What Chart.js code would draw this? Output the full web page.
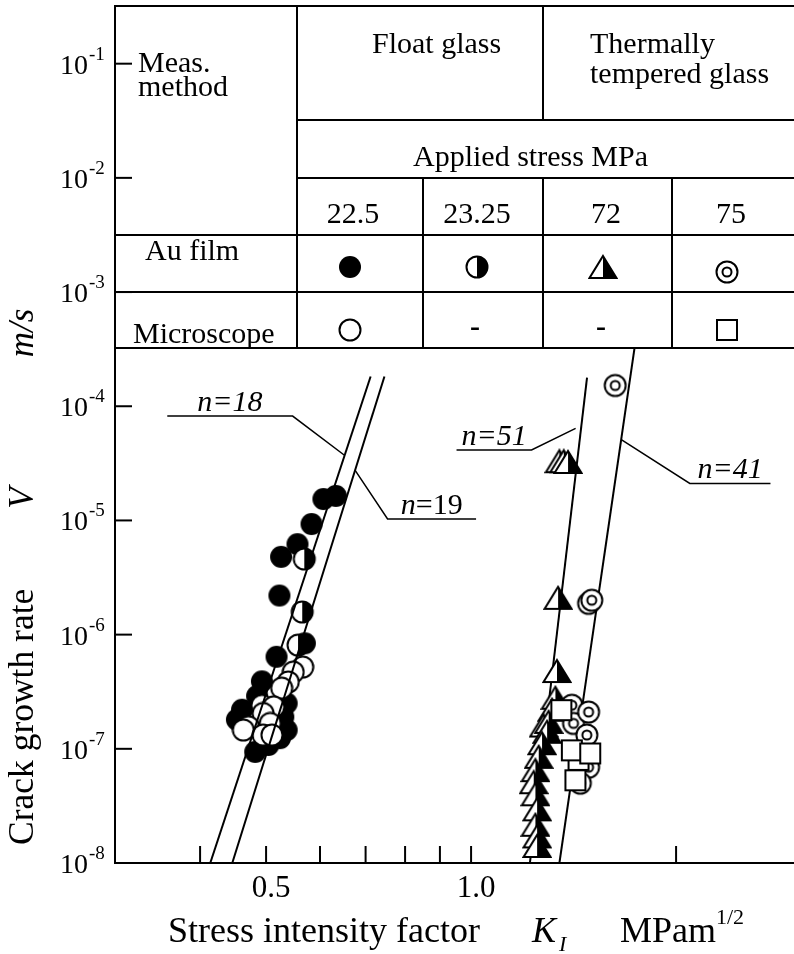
<!DOCTYPE html>
<html>
<head>
<meta charset="utf-8">
<title>Crack growth rate vs stress intensity factor</title>
<script src="https://cdn.jsdelivr.net/npm/chart.js@4.4.1/dist/chart.umd.min.js"></script>
<style>
  html, body { margin: 0; padding: 0; background: #fff; overflow: hidden; }
  #wrap { position: relative; width: 800px; height: 954px; }
</style>
</head>
<body>
<div id="wrap"><canvas id="chart" width="800" height="954"></canvas></div>
<script>
const SERIF = '"Liberation Serif", "Times New Roman", serif';

// axis ticks
const xTicks = [0.4, 0.5, 0.6, 0.7, 0.8, 0.9, 1.0, 2.0];
const xTickText = ['', '0.5', '', '', '', '', '1.0', ''];
const yTicks = [1e-8, 1e-7, 1e-6, 1e-5, 1e-4, 1e-3, 1e-2, 1e-1];
const yTickExp = ['-8', '-7', '-6', '-5', '-4', '-3', '-2', '-1'];

// [K_I (MPa m^1/2), V (m/s)]
// float glass, Au film, 22.5 MPa
const floatAu225 = [
  [0.607, 1.54e-5], [0.633, 1.64e-5], [0.583, 9.3e-6], [0.556, 6.2e-6], [0.526, 4.8e-6],
  [0.523, 2.2e-6], [0.570, 8.4e-7], [0.518, 6.4e-7], [0.493, 3.9e-7], [0.485, 2.9e-7],
  [0.461, 2.2e-7], [0.453, 1.8e-7], [0.482, 9.4e-8], [0.504, 1.08e-7], [0.524, 1.24e-7],
  [0.530, 1.9e-7], [0.536, 2.5e-7], [0.536, 1.46e-7]
];
// float glass, Au film, 23.25 MPa
const floatAu2325 = [[0.569, 4.6e-6], [0.565, 1.58e-6], [0.557, 8.1e-7]];
// float glass, microscope, 22.5 MPa
const floatMic225 = [
  [0.566, 5.2e-7], [0.548, 4.7e-7], [0.539, 3.85e-7], [0.527, 3.4e-7], [0.493, 2.4e-7],
  [0.513, 2.33e-7], [0.495, 2.04e-7], [0.507, 1.67e-7], [0.471, 1.56e-7], [0.463, 1.46e-7],
  [0.495, 1.32e-7], [0.510, 1.32e-7]
];
// tempered glass, Au film, 72 MPa
const tempAu72 = [
  [1.348, 3.3e-5], [1.368, 3.3e-5], [1.388, 3.25e-5], [1.342, 2.1e-6], [1.337, 4.8e-7],
  [1.330, 2.8e-7], [1.315, 2.2e-7], [1.278, 1.6e-7], [1.300, 1.72e-7], [1.293, 1.41e-7],
  [1.271, 1.12e-7], [1.257, 8.5e-8], [1.243, 6.5e-8], [1.236, 5.1e-8], [1.243, 4.0e-8],
  [1.250, 2.95e-8], [1.243, 2.16e-8], [1.250, 1.71e-8], [1.250, 1.41e-8]
];
// tempered glass, Au film, 75 MPa
const tempAu75 = [
  [1.628, 1.52e-4], [1.488, 1.88e-6], [1.504, 2.0e-6], [1.406, 2.41e-7], [1.414, 1.67e-7],
  [1.488, 2.1e-7], [1.479, 1.32e-7], [1.488, 6.9e-8], [1.447, 5.0e-8]
];
// tempered glass, microscope, 75 MPa
const tempMic75 = [[1.357, 2.18e-7], [1.438, 8.0e-8], [1.406, 9.7e-8], [1.496, 9.1e-8], [1.423, 5.3e-8]];

// power-law fits V = A K^n, end points
const fit18 = [[0.414, 1e-8], [0.712, 1.82e-4]];
const fit19 = [[0.446, 1e-8], [0.746, 1.82e-4]];
const fit51 = [[1.220, 1e-8], [1.480, 1.78e-4]];
const fit41 = [[1.348, 1e-8], [1.738, 3.24e-4]];

// label leaders: underline first, then the run to the line
const lead18 = [[0.358, 8.2e-5], [0.547, 8.2e-5], [0.651, 3.74e-5]];
const lead19 = [[1.017, 1.03e-5], [0.754, 1.03e-5], [0.675, 2.77e-5]];
const lead51 = [[0.952, 4.14e-5], [1.227, 4.14e-5], [1.424, 6.4e-5]];
const lead41 = [[2.752, 2.11e-5], [2.095, 2.11e-5], [1.664, 5.07e-5]];
const leadText = [
  [['n=18', true]],
  [['n', true], ['=19', false]],
  [['n=51', true]],
  [['n=41', true]]
];

const pts = arr => arr.map(([x, y]) => ({ x, y }));

// marker images
function marker(w, h, paint) {
  const c = document.createElement('canvas');
  c.width = w; c.height = h;
  const g = c.getContext('2d');
  g.lineWidth = 2; g.strokeStyle = '#000';
  paint(g, w, h);
  return c;
}
const disc = marker(24, 24, g => {
  g.beginPath(); g.arc(12, 12, 11, 0, Math.PI * 2); g.fillStyle = '#000'; g.fill();
});
const ring = marker(24, 24, g => {
  g.beginPath(); g.arc(12, 12, 10.5, 0, Math.PI * 2); g.fillStyle = '#fff'; g.fill(); g.stroke();
});
const halfDisc = marker(26, 26, g => {
  g.beginPath(); g.arc(13, 13, 10.5, 0, Math.PI * 2); g.fillStyle = '#fff'; g.fill();
  g.beginPath(); g.arc(13, 13, 10.5, -Math.PI / 2, Math.PI / 2); g.closePath(); g.fillStyle = '#000'; g.fill();
  g.beginPath(); g.arc(13, 13, 10.5, 0, Math.PI * 2); g.stroke();
});
const bullseye = marker(26, 26, g => {
  g.beginPath(); g.arc(13, 13, 10.5, 0, Math.PI * 2); g.fillStyle = '#fff'; g.fill(); g.stroke();
  g.beginPath(); g.arc(13, 13, 4.5, 0, Math.PI * 2); g.stroke();
});
const halfTri = marker(30, 26, g => {
  g.beginPath(); g.moveTo(15, 2); g.lineTo(28.5, 24); g.lineTo(1.5, 24); g.closePath();
  g.fillStyle = '#fff'; g.fill();
  g.beginPath(); g.moveTo(15, 2); g.lineTo(28.5, 24); g.lineTo(15, 24); g.closePath();
  g.fillStyle = '#000'; g.fill();
  g.beginPath(); g.moveTo(15, 2); g.lineTo(28.5, 24); g.lineTo(1.5, 24); g.closePath(); g.stroke();
});
const box = marker(24, 24, g => {
  g.fillStyle = '#fff'; g.fillRect(2, 2, 20, 20); g.strokeRect(2, 2, 20, 20);
});

const lineSet = (data, order, width) => ({
  data: pts(data), showLine: true, pointRadius: 0, borderColor: '#000',
  borderWidth: width, fill: false, order
});
// the images carry the marker size, so the radius stays tiny and adds no layout padding
const markSet = (data, order, img) => ({
  data: pts(data), showLine: false, order, pointStyle: img, pointRadius: 1, pointBorderWidth: 0
});

function line(ctx, x1, y1, x2, y2) {
  ctx.beginPath(); ctx.moveTo(x1, y1); ctx.lineTo(x2, y2); ctx.stroke();
}

// tick marks, labels, titles and the method/stress table
const decor = {
  id: 'decor',
  afterDraw(chart) {
    const { ctx, chartArea: a, scales: { x, y } } = chart;
    ctx.save();
    ctx.strokeStyle = '#000';
    ctx.fillStyle = '#000';
    ctx.lineWidth = 2;
    line(ctx, a.left - 1, a.top, a.right, a.top);

    x.ticks.forEach(t => {
      const px = x.getPixelForValue(t.value);
      line(ctx, px, a.bottom, px, a.bottom - 17);
    });
    y.ticks.forEach(t => {
      const py = y.getPixelForValue(t.value);
      line(ctx, a.left, py, a.left + 17, py);
    });

    ctx.textBaseline = 'alphabetic';
    ctx.font = '31px ' + SERIF;
    ctx.textAlign = 'center';
    xTicks.forEach((v, i) => {
      if (xTickText[i]) ctx.fillText(xTickText[i], x.getPixelForValue(v) + 5, a.bottom + 34);
    });
    yTicks.forEach((v, i) => {
      const py = y.getPixelForValue(v);
      ctx.font = '28px ' + SERIF;
      ctx.textAlign = 'right';
      ctx.fillText('10', a.left - 27, py + 10);
      ctx.font = '19px ' + SERIF;
      ctx.textAlign = 'left';
      ctx.fillText(yTickExp[i], a.left - 26, py - 4);
    });

    // fit labels on their leaders
    [lead18, lead19, lead51, lead41].forEach((ld, i) => {
      const x1 = x.getPixelForValue(ld[0][0]), x2 = x.getPixelForValue(ld[1][0]);
      const yb = y.getPixelForValue(ld[0][1]) - 5;
      const parts = leadText[i];
      let w = 0;
      parts.forEach(([s, it]) => { ctx.font = (it ? 'italic ' : '') + '30px ' + SERIF; w += ctx.measureText(s).width; });
      let cx = (x1 + x2) / 2 - w / 2;
      ctx.textAlign = 'left';
      parts.forEach(([s, it]) => {
        ctx.font = (it ? 'italic ' : '') + '30px ' + SERIF;
        ctx.fillText(s, cx, yb);
        cx += ctx.measureText(s).width;
      });
    });

    // axis titles
    ctx.font = '36px ' + SERIF;
    ctx.textAlign = 'left';
    ctx.fillText('Stress intensity factor', 168, 942);
    ctx.font = 'italic 36px ' + SERIF;
    ctx.fillText('K', 532, 942);
    ctx.font = 'italic 22px ' + SERIF;
    ctx.fillText('I', 559, 951);
    ctx.font = '36px ' + SERIF;
    ctx.fillText('MPam', 620, 942);
    ctx.font = '22px ' + SERIF;
    ctx.fillText('1/2', 716, 924);

    ctx.save();
    ctx.translate(33, 0);
    ctx.rotate(-Math.PI / 2);
    ctx.font = '35.5px ' + SERIF;
    ctx.textAlign = 'left';
    ctx.fillText('Crack growth rate', -845, 0);
    ctx.font = 'italic 35px ' + SERIF;
    ctx.textAlign = 'center';
    ctx.fillText('V', -498, 0);
    ctx.fillText('m/s', -333, 0);
    ctx.restore();

    drawTable(ctx, a);
    ctx.restore();
  }
};

function drawTable(ctx, a) {
  const L = a.left, T = a.top, R = a.right;
  const cols = [297, 423, 543, 672];
  const rows = [120, 178, 235, 292, 348];
  ctx.lineWidth = 2;
  line(ctx, cols[0], T, cols[0], rows[4]);
  line(ctx, cols[2], T, cols[2], rows[0]);
  line(ctx, cols[0], rows[0], R, rows[0]);
  line(ctx, cols[0], rows[1], R, rows[1]);
  [rows[2], rows[3], rows[4]].forEach(r => line(ctx, L, r, R, r));
  [cols[1], cols[2], cols[3]].forEach(c => line(ctx, c, rows[1], c, rows[4]));

  ctx.font = '30px ' + SERIF;
  ctx.textAlign = 'left';
  ctx.fillText('Meas.', 138, 72);
  ctx.fillText('method', 138, 96);
  ctx.fillText('Float glass', 372, 53);
  ctx.fillText('Thermally', 590, 53);
  ctx.fillText('tempered glass', 590, 83);
  ctx.fillText('Applied stress MPa', 413, 166);
  ctx.fillText('Au film', 145, 260);
  ctx.fillText('Microscope', 133, 343);
  ctx.textAlign = 'center';
  const cx = [353, 477, 606, 731];
  ['22.5', '23.25', '72', '75'].forEach((s, i) => ctx.fillText(s, cx[i], 223));

  // symbol keys
  const sx = [350, 477, 603, 727];
  ctx.drawImage(disc, sx[0] - 12, 267 - 12);
  ctx.drawImage(halfDisc, sx[1] - 13, 267 - 13);
  ctx.drawImage(halfTri, sx[2] - 15, 267 - 13);
  ctx.drawImage(bullseye, sx[3] - 13, 272 - 13);
  ctx.drawImage(ring, sx[0] - 12, 330 - 12);
  ctx.drawImage(box, sx[3] - 12, 330 - 12);
  ctx.font = 'bold 30px ' + SERIF;
  ctx.fillText('-', 475, 336);
  ctx.fillText('-', 601, 336);
}

new Chart(document.getElementById('chart'), {
  type: 'scatter',
  data: {
    datasets: [
      lineSet(fit18, 0, 2),
      lineSet(fit19, 0, 2),
      lineSet(fit51, 9, 2),
      lineSet(fit41, 9, 2),
      lineSet(lead18, 0, 1.5),
      lineSet(lead19, 0, 1.5),
      lineSet(lead51, 0, 1.5),
      lineSet(lead41, 0, 1.5),
      markSet(floatAu225, 3, disc),
      markSet(floatMic225, 2, ring),
      markSet(floatAu2325, 1, halfDisc),
      markSet(tempAu72, 5, halfTri),
      markSet(tempAu75, 4, bullseye),
      markSet(tempMic75, 3, box)
    ]
  },
  options: {
    responsive: false,
    animation: false,
    events: [],
    layout: { padding: { left: 115, right: 2, top: 6, bottom: 91 } },
    plugins: { legend: { display: false }, tooltip: { enabled: false } },
    scales: {
      x: {
        type: 'logarithmic', min: 0.3, max: 3, bounds: 'data',
        afterBuildTicks: s => { s.ticks = xTicks.map(v => ({ value: v })); },
        ticks: { display: false },
        grid: { display: false, drawTicks: false },
        border: { display: true, color: '#000', width: 2 }
      },
      y: {
        type: 'logarithmic', min: 1e-8, max: 0.32, bounds: 'data',
        afterBuildTicks: s => { s.ticks = yTicks.map(v => ({ value: v })); },
        ticks: { display: false },
        grid: { display: false, drawTicks: false },
        border: { display: true, color: '#000', width: 2 }
      }
    }
  },
  plugins: [decor]
});
</script>
</body>
</html>
